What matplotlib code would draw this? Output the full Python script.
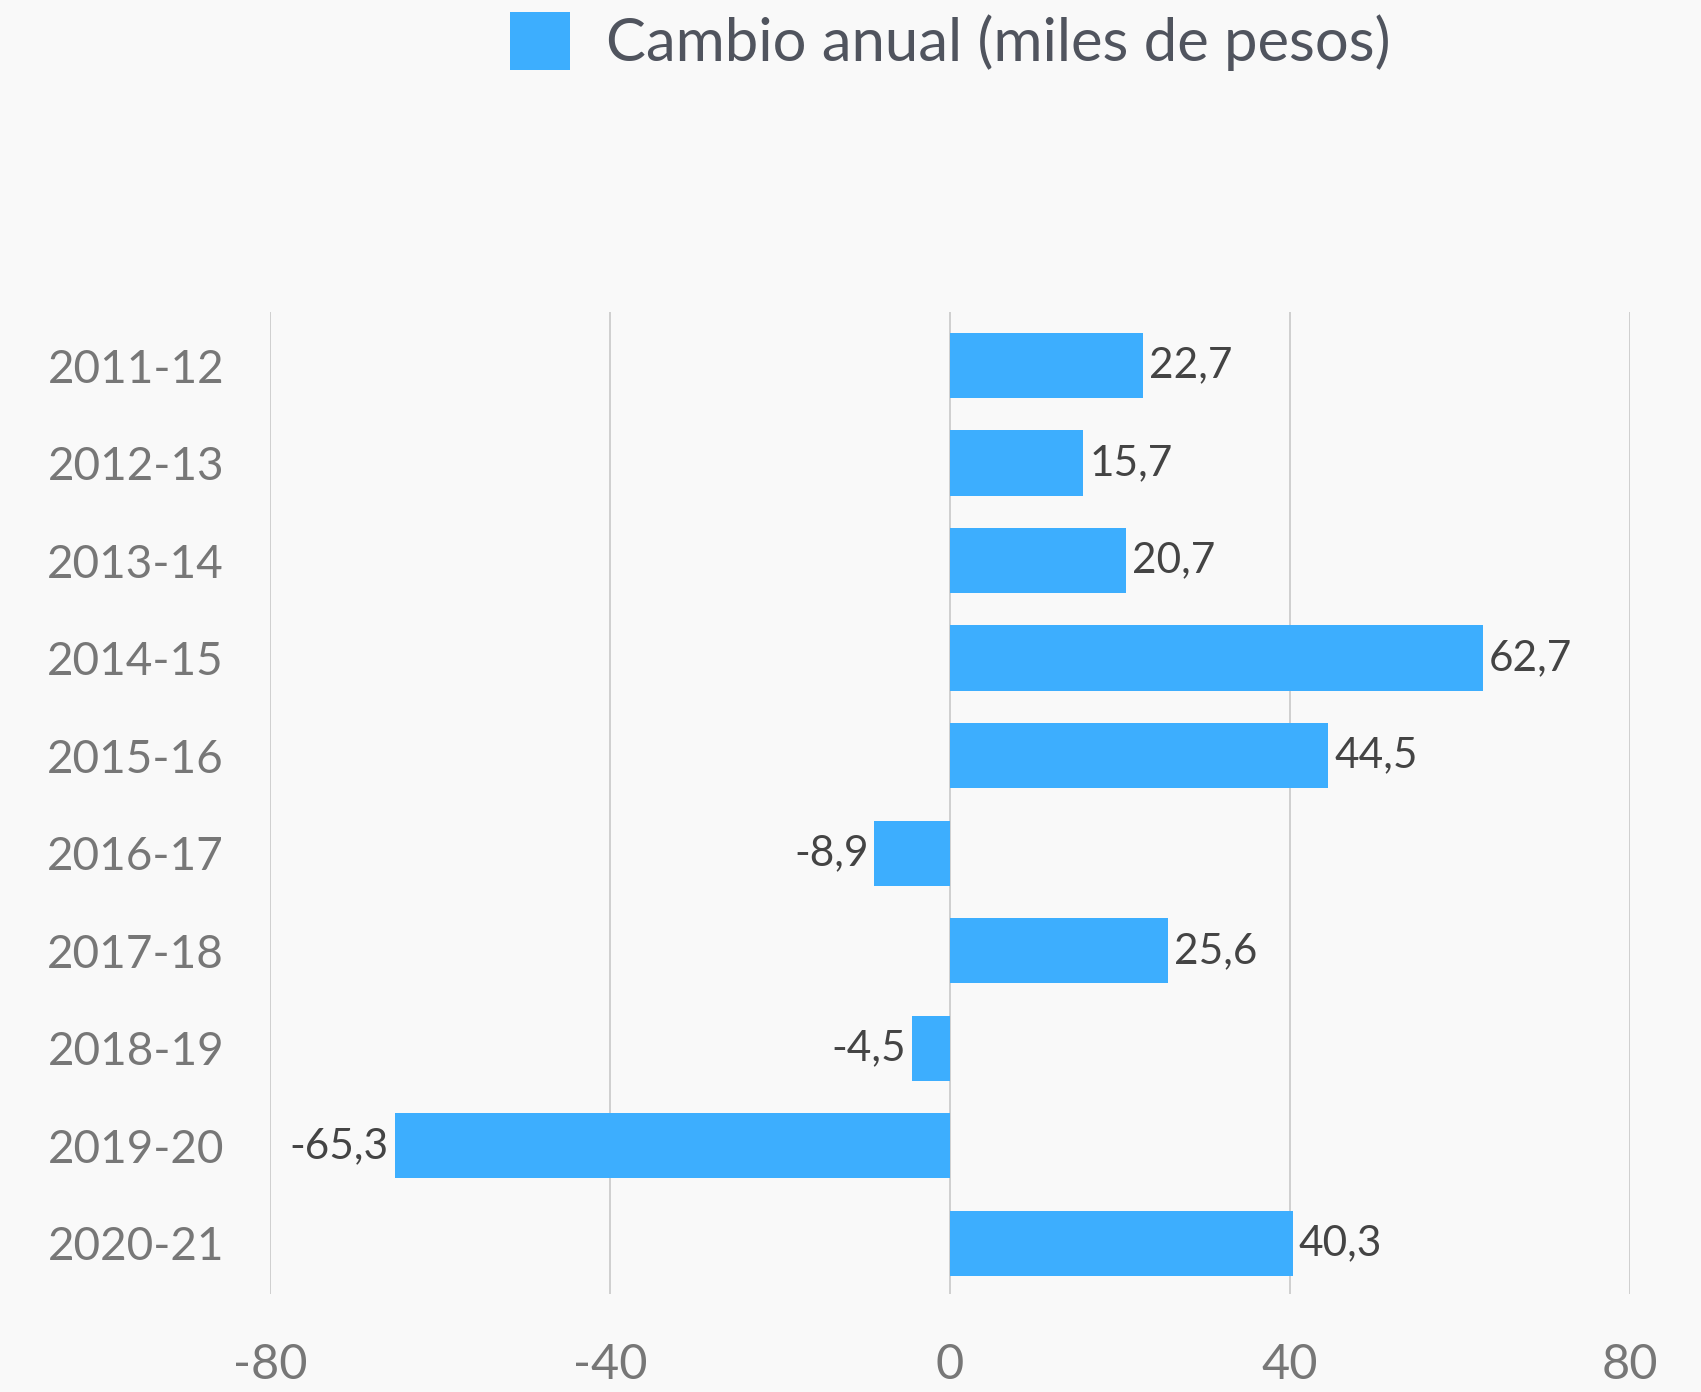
import numpy as np
import matplotlib
matplotlib.use("Agg")
import matplotlib.pyplot as plt
from matplotlib.patches import Patch

plt.rcParams['font.family'] = ['Lato', 'DejaVu Sans']

periods = ['2011-12', '2012-13', '2013-14', '2014-15', '2015-16',
           '2016-17', '2017-18', '2018-19', '2019-20', '2020-21']
values = [22.7, 15.7, 20.7, 62.7, 44.5, -8.9, 25.6, -4.5, -65.3, 40.3]
xticks = [-80, -40, 0, 40, 80]
series_name = 'Cambio anual (miles de pesos)'

bg = '#f9f9f9'
bar_color = '#3daefe'

fig = plt.figure(figsize=(17.01, 13.92), dpi=100, facecolor=bg)
ax = fig.add_axes([0.1587, 0.0704, 0.7996, 0.7055], facecolor=bg)

y = np.arange(len(periods))
ax.barh(y, values, height=0.67, color=bar_color, zorder=3)

# data labels
for yi, v in zip(y, values):
    txt = f'{v:.1f}'.replace('.', ',')
    if v >= 0:
        ax.text(v + 0.7, yi, txt, ha='left', va='center', fontsize=30.5, color='#444444', zorder=4)
    else:
        ax.text(v - 0.7, yi, txt, ha='right', va='center', fontsize=30.5, color='#444444', zorder=4)

ax.set_xlim(-80, 80)
ax.set_ylim(9.52, -0.55)
ax.set_xticks(xticks)
ax.set_xticklabels([str(t) for t in xticks])
ax.set_yticks(y)
ax.set_yticklabels(periods)
ax.tick_params(axis='x', length=0, labelsize=35, colors='#777777', pad=35)
ax.tick_params(axis='y', length=0, labelsize=33, colors='#777777', pad=33)
ax.xaxis.grid(True, color='#cccccc', linewidth=1.3, zorder=0)
ax.yaxis.grid(False)
for s in ax.spines.values():
    s.set_visible(False)

handle = Patch(facecolor=bar_color, edgecolor='none')
fig.legend([handle], [series_name], loc='upper left', bbox_to_anchor=(510 / 1701, 0.9915),
           frameon=False, fontsize=43, handlelength=1.0, handleheight=1.12,
           handletextpad=0.6, borderpad=0, borderaxespad=0, labelcolor='#50545e')

fig.savefig('out.png', dpi=100, facecolor=bg)
